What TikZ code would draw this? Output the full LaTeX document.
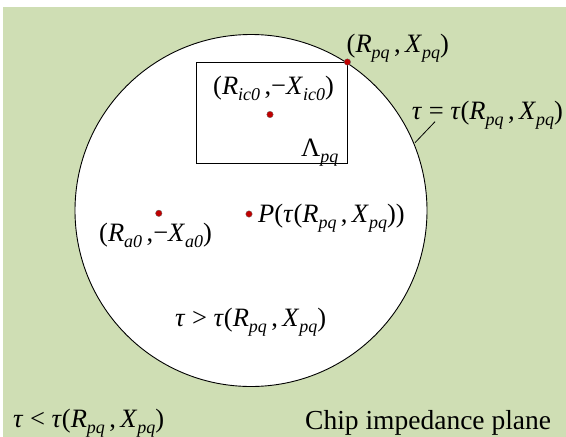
\documentclass[tikz,border=0pt]{standalone}
\usepackage{fontspec}
\setmainfont{Liberation Serif}
\definecolor{plane}{RGB}{207,222,180}
\definecolor{dotred}{RGB}{192,0,0}
\newcommand{\sbx}[1]{\raisebox{-0.22em}{\fontsize{18}{18}\selectfont\itshape #1}}
\newcommand{\tv}{\textit{τ}}
\begin{document}
\begin{tikzpicture}[x=1pt,y=-1pt,
  lbl/.style={inner sep=0pt, anchor=west, font=\fontsize{26.5}{31}\selectfont},
  dotmark/.style={circle, fill=dotred, draw=black!60, line width=0.3pt, minimum size=6.5pt, inner sep=0pt},
  edge/.style={draw=black, line width=0.9pt}]
\useasboundingbox (0,0) rectangle (566,437);
\fill[plane] (3,7) rectangle (566,437);
\node[circle, edge, fill=white, minimum size=352pt, inner sep=0pt] (zone) at (251,210.5) {};
\node[edge, inner sep=0pt, minimum width=151pt, minimum height=101pt, anchor=north west] (lambda) at (195.5,62) {};
\node[dotmark] (dpq) at (lambda.north east) {};
\node[dotmark] (dic) at (270,114.5) {};
\node[dotmark] (da) at (158.8,213.3) {};
\node[dotmark] (dp) at (249,214) {};
\node[lbl] (lpq) at (346.5,48) {(\textit{R}\sbx{pq}\,,\,\textit{X}\sbx{pq})};
\node[lbl] (lic) at (213,88) {(\textit{R}\sbx{ic0}\,,−\textit{X}\sbx{ic0})};
\node[lbl] (llam) at (301,153) {Λ\sbx{pq}};
\node[lbl] (ltaueq) at (411.7,115) {\tv{} = \tv(\textit{R}\sbx{pq}\,,\,\textit{X}\sbx{pq})};
\node[lbl] (la) at (99,235) {(\textit{R}\sbx{a0}\,,−\textit{X}\sbx{a0})};
\node[lbl] (lp) at (258,218) {\textit{P}(\tv(\textit{R}\sbx{pq}\,,\,\textit{X}\sbx{pq}))};
\node[lbl] (lgt) at (175,322) {\tv{} > \tv(\textit{R}\sbx{pq}\,,\,\textit{X}\sbx{pq})};
\node[lbl] (llt) at (13,423) {\tv{} < \tv(\textit{R}\sbx{pq}\,,\,\textit{X}\sbx{pq})};
\node[lbl, font=\fontsize{27.5}{32}\selectfont] (lchip) at (305,423) {Chip impedance plane};
\coordinate (ltop) at (435,121.7);
\coordinate (lbot) at (415,142.7);
\draw[line width=0.8pt] (ltop) -- (lbot);
\end{tikzpicture}
\end{document}
